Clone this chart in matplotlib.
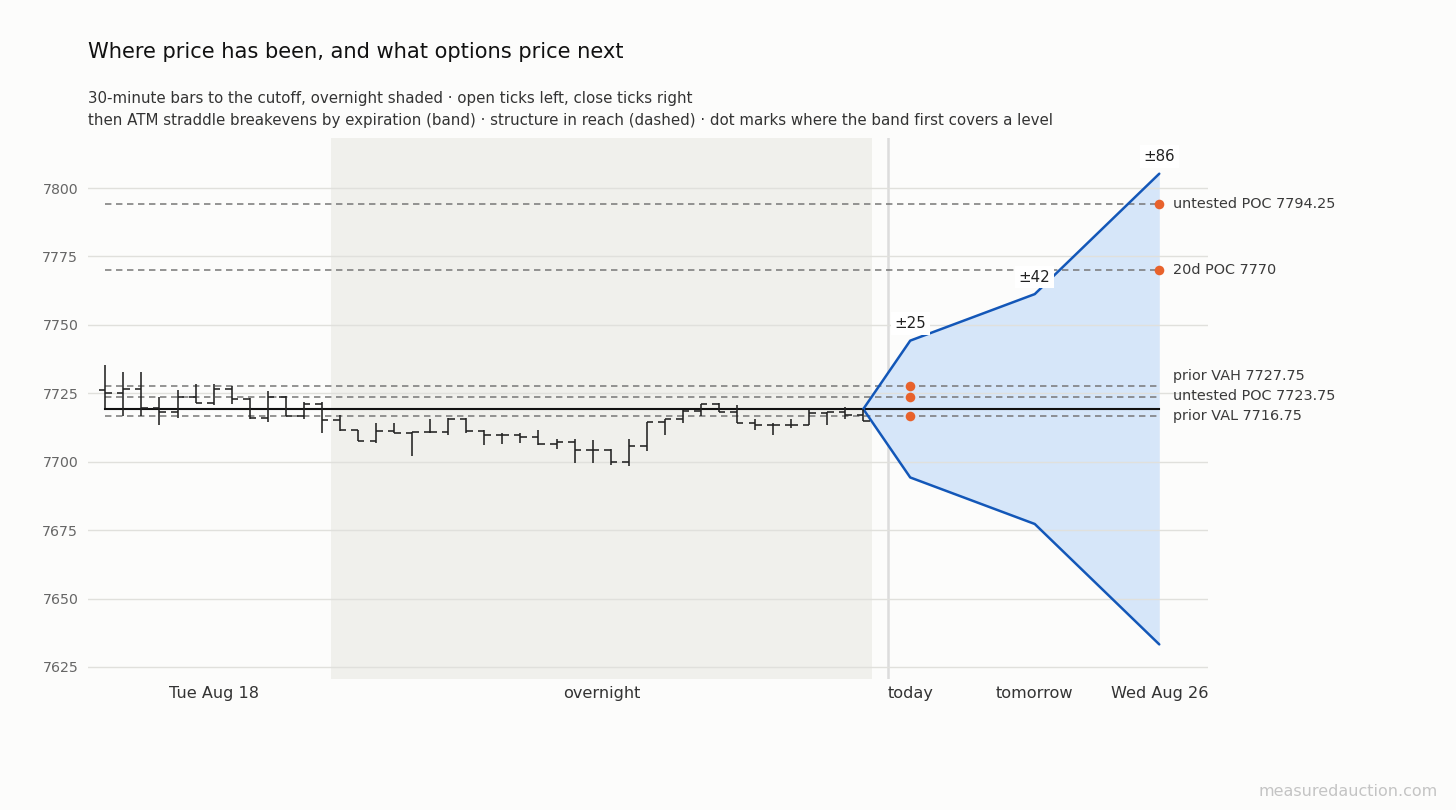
import numpy as np
import matplotlib
matplotlib.use("Agg")
import matplotlib.pyplot as plt

# ---------------- data ----------------
opens  = [7726.25, 7725.0, 7726.5, 7719.75, 7718.25, 7723.5, 7721.5, 7726.5, 7722.75, 7716.0,
          7723.75, 7716.75, 7721.0, 7715.25, 7711.5, 7707.75, 7711.25, 7710.5, 7711.0, 7711.0,
          7715.75, 7711.25, 7709.75, 7709.75, 7709.0, 7706.5, 7707.25, 7704.25, 7704.25, 7700.0,
          7705.75, 7714.5, 7715.5, 7718.5, 7721.25, 7718.25, 7714.25, 7713.5, 7713.5, 7713.5,
          7717.75, 7718.0, 7717.0]
highs  = [7735.25, 7732.75, 7732.75, 7723.75, 7726.25, 7728.5, 7728.25, 7727.75, 7723.25, 7725.75,
          7724.0, 7721.75, 7721.75, 7717.0, 7711.75, 7714.0, 7714.0, 7711.0, 7715.75, 7716.0,
          7716.0, 7711.5, 7710.5, 7710.5, 7711.5, 7708.25, 7708.25, 7708.0, 7704.5, 7708.25,
          7714.5, 7715.5, 7719.0, 7721.25, 7721.5, 7720.75, 7715.75, 7714.0, 7715.75, 7719.0,
          7718.0, 7720.0, 7719.25]
lows   = [7719.5, 7716.75, 7716.75, 7713.25, 7716.0, 7721.5, 7720.75, 7721.25, 7715.5, 7714.5,
          7716.75, 7715.75, 7710.5, 7711.25, 7707.75, 7706.75, 7710.5, 7702.0, 7710.5, 7709.75,
          7710.5, 7706.0, 7706.5, 7707.0, 7706.0, 7704.5, 7699.5, 7699.5, 7698.75, 7698.5,
          7704.0, 7709.75, 7714.0, 7716.75, 7718.0, 7714.25, 7711.75, 7709.75, 7712.25, 7713.5,
          7713.5, 7715.5, 7714.75]
closes = [7725.0, 7726.5, 7719.75, 7718.25, 7723.5, 7721.5, 7726.5, 7722.75, 7716.0, 7723.75,
          7716.75, 7721.0, 7715.25, 7711.5, 7707.75, 7711.25, 7710.5, 7711.0, 7711.0, 7715.75,
          7711.25, 7709.75, 7709.75, 7709.0, 7706.5, 7707.25, 7704.25, 7704.25, 7700.0, 7705.75,
          7714.5, 7715.5, 7718.5, 7721.25, 7718.25, 7714.25, 7713.5, 7713.5, 7713.5, 7717.75,
          7718.0, 7717.0, 7714.75]
rth_bars = 13                      # Tue Aug 18 regular session bars, rest overnight
session_labels = ["Tue Aug 18", "overnight"]

ref_price = 7719.25                # ATM reference at cutoff
expiries = ["today", "tomorrow", "Wed Aug 26"]
expiry_x = [44.6, 51.5, 58.4]
straddle = [25, 42, 86]

level_names  = ["untested POC", "20d POC", "prior VAH", "untested POC", "prior VAL"]
level_values = [7794.25, 7770, 7727.75, 7723.75, 7716.75]

yticks = [7625, 7650, 7675, 7700, 7725, 7750, 7775, 7800]

# ---------------- styling ----------------
BG = "#FCFCFB"
SHADE = "#F0F0EC"
GRID = "#E0E0DC"
BAR = "#222222"
BAND_LINE = "#1357B8"
BAND_FILL = "#D6E6F9"
DOT = "#E8622C"

plt.rcParams["font.family"] = ["DejaVu Sans"]

fig = plt.figure(figsize=(14.56, 8.10), dpi=100, facecolor=BG)
W, H = 1456, 810
ax = fig.add_axes([88 / W, 1 - 679 / H, 1120 / W, 541 / H])
ax.set_facecolor(BG)
for s in ax.spines.values():
    s.set_visible(False)

n = len(opens)
xs = np.arange(n)
ax.set_xlim(-0.96, 61.1)
ax.set_ylim(7620.6, 7818.3)

# grid
ax.set_yticks(yticks)
ax.yaxis.grid(True, color=GRID, lw=1.0, zorder=0.5)
ax.xaxis.grid(False)
ax.set_axisbelow(False)
ax.tick_params(axis="y", length=0, pad=7, labelsize=10.2, labelcolor="#666666")
ax.tick_params(axis="x", length=0, pad=5, labelsize=11.6, labelcolor="#333333")

# overnight shading
ax.axvspan(rth_bars - 0.5, n - 0.5, color=SHADE, zorder=0, lw=0)
# divider
ax.axvline(43.35, color="#DCDCDC", lw=1.8, zorder=0.6)

# x tick labels
session_x = [(rth_bars - 1) / 2, (rth_bars - 0.5 + n - 0.5) / 2]
ax.set_xticks(session_x + expiry_x)
ax.set_xticklabels(session_labels + expiries)

# band
band_x = [xs[-1]] + expiry_x
upper = [ref_price] + [ref_price + w for w in straddle]
lower = [ref_price] + [ref_price - w for w in straddle]
ax.fill_between(band_x, lower, upper, color=BAND_FILL, lw=0, zorder=1)
ax.plot(band_x, upper, color=BAND_LINE, lw=1.8, zorder=4, solid_capstyle="round")
ax.plot(band_x, lower, color=BAND_LINE, lw=1.8, zorder=4, solid_capstyle="round")

# reference price line
ax.plot([xs[0], expiry_x[-1]], [ref_price, ref_price], color="#111111", lw=1.5, zorder=3)

# structure levels
for name, v in zip(level_names, level_values):
    ax.plot([xs[0], expiry_x[-1]], [v, v], color="#777777", lw=1.1,
            dashes=(4.2, 3.0), zorder=2)
    # first expiry whose band covers the level
    for ex, w in zip(expiry_x, straddle):
        if ref_price - w <= v <= ref_price + w:
            ax.scatter([ex], [v], s=48, color=DOT, zorder=6, lw=0)
            break

# right-side labels with simple de-overlap
order = np.argsort(level_values)
gap = 7.3
label_y = {}
prev = -np.inf
for i in order:
    y = max(level_values[i], prev + gap)
    label_y[i] = y
    prev = y
for i, (name, v) in enumerate(zip(level_names, level_values)):
    lbl = f"{name} {v:g}" if float(v).is_integer() else f"{name} {v:.2f}"
    ax.annotate(lbl, xy=(expiry_x[-1], label_y[i]), xytext=(14, 0),
                textcoords="offset pixels", ha="left", va="center",
                fontsize=10.4, color="#3A3A3A", annotation_clip=False)

# ± labels
for ex, w in zip(expiry_x, straddle):
    ax.annotate(f"±{w}", xy=(ex, ref_price + w), xytext=(0, 17),
                textcoords="offset pixels", ha="center", va="center",
                fontsize=10.8, color="#222222", zorder=7,
                bbox=dict(boxstyle="square,pad=0.25", fc="white", ec="none"))

# OHLC bars
tick = 0.36
ax.vlines(xs, lows, highs, color=BAR, lw=1.15, zorder=5)
ax.hlines(opens, xs - tick, xs, color=BAR, lw=1.15, zorder=5)
ax.hlines(closes, xs, xs + tick, color=BAR, lw=1.15, zorder=5)

# titles
fig.text(88 / W, 1 - 52 / H, "Where price has been, and what options price next",
         fontsize=15.1, color="#111111", ha="left", va="center")
fig.text(88 / W, 1 - 99 / H,
         "30-minute bars to the cutoff, overnight shaded · open ticks left, close ticks right",
         fontsize=10.8, color="#333333", ha="left", va="center")
fig.text(88 / W, 1 - 120 / H,
         "then ATM straddle breakevens by expiration (band) · structure in reach (dashed) · dot marks where the band first covers a level",
         fontsize=10.8, color="#333333", ha="left", va="center")
fig.text(1438 / W, 1 - 791 / H, "measuredauction.com", fontsize=11.5,
         color="#C4C4C4", ha="right", va="center")

fig.savefig("out.png", dpi=100, facecolor=BG)
